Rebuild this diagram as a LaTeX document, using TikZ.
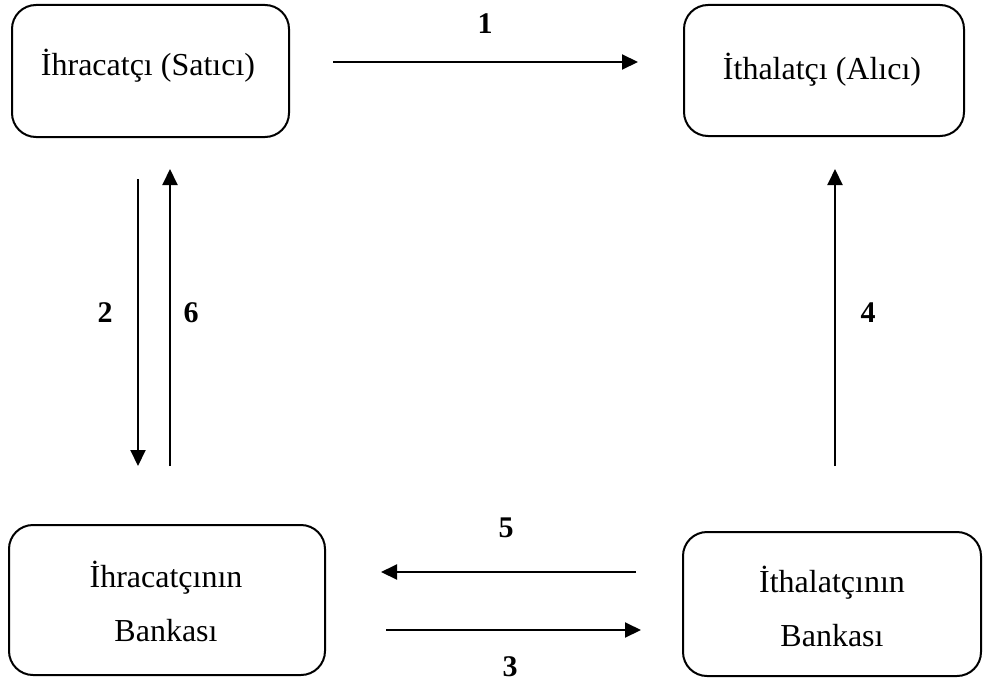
\documentclass[tikz,border=0pt]{standalone}
\usepackage{fontspec}
\setmainfont{Liberation Serif}
\usetikzlibrary{arrows.meta}
\begin{document}
\begin{tikzpicture}[x=1pt,y=-1pt,
  box/.style={draw,line width=2pt,rounded corners=24pt,inner sep=0pt},
  txt/.style={font=\fontsize{32}{38}\selectfont,inner sep=0pt,anchor=base},
  num/.style={font=\fontsize{30}{34}\selectfont\bfseries,inner sep=0pt},
  flow/.style={line width=2pt,-{Triangle[length=16pt,width=15pt]}}]
\useasboundingbox (0,0) rectangle (984,682);
% boxes
\draw[box] (12,5) rectangle (289,137) node[midway] (exp) {};
\draw[box] (684,5) rectangle (964,136) node[midway] (imp) {};
\draw[box] (9,525) rectangle (325,675) node[midway] (expb) {};
\draw[box] (683,532) rectangle (981,676) node[midway] (impb) {};
% texts
\node[txt] (t1) at (148,76) {İhracatçı (Satıcı)};
\node[txt] (t2) at (822,80) {İthalatçı (Alıcı)};
\node[txt] (t3a) at (166,587) {İhracatçının};
\node[txt] (t3b) at (166,641) {Bankası};
\node[txt] (t4a) at (832,592) {İthalatçının};
\node[txt] (t4b) at (832,646) {Bankası};
% arrow ends
\coordinate (a1s) at (333,62);  \coordinate (a1e) at (638,62);
\coordinate (a2s) at (138,179); \coordinate (a2e) at (138,466);
\coordinate (a6s) at (170,466); \coordinate (a6e) at (170,169);
\coordinate (a4s) at (835,466); \coordinate (a4e) at (835,169);
\coordinate (a5s) at (636,572); \coordinate (a5e) at (381,572);
\coordinate (a3s) at (386,630); \coordinate (a3e) at (641,630);
\draw[flow] (a1s) -- (a1e);
\draw[flow] (a2s) -- (a2e);
\draw[flow] (a6s) -- (a6e);
\draw[flow] (a4s) -- (a4e);
\draw[flow] (a5s) -- (a5e);
\draw[flow] (a3s) -- (a3e);
% labels
\node[num] (n1) at (485,24) {1};
\node[num] (n2) at (105,313) {2};
\node[num] (n6) at (191,313) {6};
\node[num] (n4) at (868,313) {4};
\node[num] (n5) at (506,528) {5};
\node[num] (n3) at (510,667) {3};
\end{tikzpicture}
\end{document}
